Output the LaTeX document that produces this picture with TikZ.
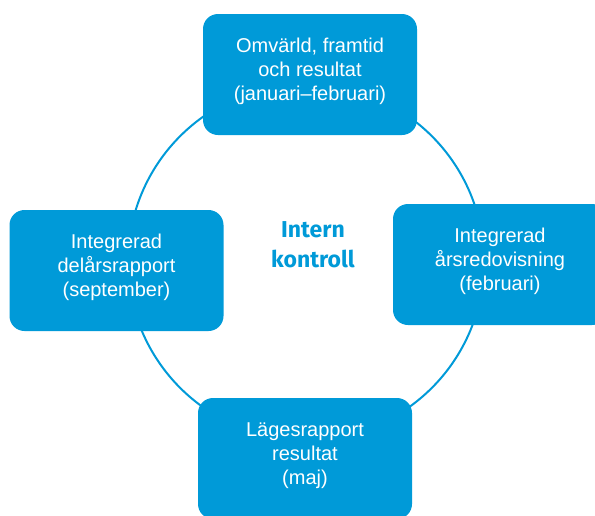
\documentclass[tikz,border=0pt]{standalone}
\usepackage{fontspec}
\setmainfont{Liberation Sans}
\newfontfamily\ikfont{Fira Sans}
\definecolor{ikblue}{RGB}{0,154,216}
\begin{document}
\begin{tikzpicture}[x=1pt,y=-1pt,
  box/.style={draw=none,fill=ikblue,rounded corners=15pt,minimum width=214pt,minimum height=121pt,
    text=white,align=center,inner sep=0pt,font=\fontsize{20}{24}\selectfont,text depth=10pt},
  ring/.style={draw=ikblue,line width=2pt}]
\useasboundingbox (0,0) rectangle (595,515);
\coordinate (c) at (306,262);
\draw[ring] (c) circle[radius=178];
\node[box] (top) at (310,74.5) {Omvärld, framtid\\och resultat\\(januari–februari)};
\node[box] (right) at (500,264.5) {Integrerad\\årsredovisning\\(februari)};
\node[box] (left) at (116.5,270.5) {Integrerad\\delårsrapport\\(september)};
\node[box] (bottom) at (305,458.5) {Lägesrapport\\resultat\\(maj)};
\node[text=ikblue,align=center,font=\ikfont\bfseries\fontsize{23}{30}\selectfont] (ik) at (313,245) {Intern\\kontroll};
\end{tikzpicture}
\end{document}
